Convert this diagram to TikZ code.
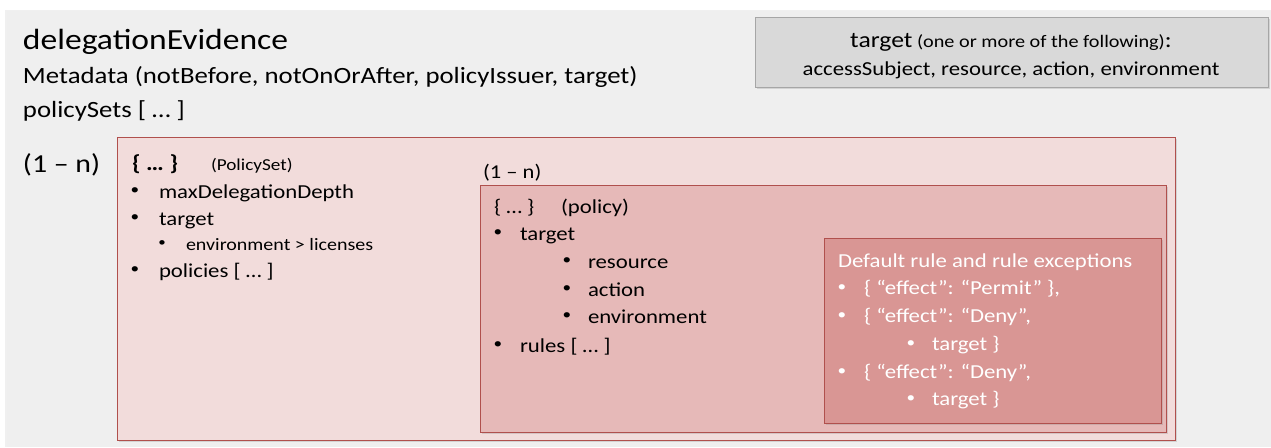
\documentclass[tikz,border=0pt]{standalone}
\usepackage{fontspec}
\setmainfont{Carlito}[FakeStretch=1.15]
\usetikzlibrary{shadows}
\definecolor{bgGrey}{HTML}{EFEFEF}
\definecolor{tgtFill}{HTML}{D9D9D9}
\definecolor{tgtLine}{HTML}{A6A6A6}
\definecolor{psFill}{HTML}{F2DCDB}
\definecolor{polFill}{HTML}{E6B9B8}
\definecolor{ruleFill}{HTML}{D99694}
\definecolor{redLine}{HTML}{B0504D}
\newcommand\myfs[1]{\fontsize{#1}{#1}\selectfont}
\begin{document}
\begin{tikzpicture}[x=1pt,y=-1pt,
  txt/.style={anchor=base west,inner sep=0pt,outer sep=0pt},
  bul/.style={anchor=base,inner sep=0pt,outer sep=0pt},
  body/.style={font=\myfs{19.8}},
  small/.style={font=\myfs{17.4}},
  dot/.style={anchor=center,inner sep=0pt,outer sep=0pt,font=\myfs{15}},
  shad/.style={drop shadow={opacity=0.25,shadow xshift=1.5pt,shadow yshift=-2pt}},
  tgtbox/.style={fill=tgtFill,draw=tgtLine,line width=1pt,shad},
  psbox/.style={fill=psFill,draw=redLine,line width=0.9pt,shad},
  polbox/.style={fill=polFill,draw=redLine,line width=0.9pt,shad},
  rulebox/.style={fill=ruleFill,draw=redLine,line width=0.9pt,shad},
  wtxt/.style={txt,text=white,body},
  wdot/.style={dot,text=white}]
\useasboundingbox (0,0) rectangle (1271,447);
\fill[white] (0,0) rectangle (1271,447);
\fill[black,opacity=0.06] (5,10) rectangle (1271,447);
\fill[bgGrey] (7,11) rectangle (1271,447);

% target box
\path[tgtbox] (755,17) rectangle (1268,87);
\node[bul] (tgt1) at (1011,47) {{\myfs{22.3}target}{\myfs{17.6} (one or more of the following)}{\myfs{22.3}:}};
\node[bul,body] (tgt2) at (1011,75) {accessSubject, resource, action, environment};

% header texts
\node[txt,font=\myfs{29.2}] (title) at (23,49) {delegationEvidence};
\node[txt,font=\myfs{23.3}] (meta) at (23,83) {Metadata (notBefore, notOnOrAfter, policyIssuer, target)};
\node[txt,font=\myfs{23.3}] (psets) at (23,117) {policySets [ … ]};
\node[txt,font=\myfs{25.9}] (card1) at (23,172) {(1 – n)};

% PolicySet box
\path[psbox] (117,137) rectangle (1175,440);
\node[txt,font=\bfseries\myfs{21.7}] (psbr) at (132,170) {\{ … \}};
\node[txt,font=\myfs{16.7}] (pslbl) at (211,170) {(PolicySet)};
\node[dot] (b1) at (135,191) {•};
\node[txt,body] (t1) at (159,198) {maxDelegationDepth};
\node[dot] (b2) at (135,218) {•};
\node[txt,body] (t2) at (159,225) {target};
\node[dot,font=\myfs{13}] (b3) at (162,244) {•};
\node[txt,small] (t3) at (186,250) {environment > licenses};
\node[dot] (b4) at (135,270) {•};
\node[txt,body] (t4) at (159,277) {policies [ … ]};

% policy box
\node[txt,font=\myfs{19.6}] (card2) at (483,178) {(1 – n)};
\path[polbox] (480,185) rectangle (1166,432);
\node[txt,body] (polbr) at (494,213) {\{ … \}};
\node[txt,body] (pollbl) at (561,213) {(policy)};
\node[dot] (pb1) at (498,233) {•};
\node[txt,body] (pt1) at (520,240) {target};
\node[dot] (pb2) at (567,261) {•};
\node[txt,body] (pt2) at (588,268) {resource};
\node[dot] (pb3) at (567,289) {•};
\node[txt,body] (pt3) at (588,296) {action};
\node[dot] (pb4) at (567,316) {•};
\node[txt,body] (pt4) at (588,323) {environment};
\node[dot] (pb5) at (498,345) {•};
\node[txt,body] (pt5) at (520,352) {rules [ … ]};

% rules box
\path[rulebox] (824,238) rectangle (1161,423);
\node[wtxt] (rh) at (838,267) {Default rule and rule exceptions};
\node[wdot] (rb1) at (842,288) {•};
\node[wtxt] (rt1) at (864,294) {\{ “effect”: “Permit” \},};
\node[wdot] (rb2) at (842,316) {•};
\node[wtxt] (rt2) at (864,322) {\{ “effect”: “Deny”,};
\node[wdot] (rb3) at (911,344) {•};
\node[wtxt] (rt3) at (932,350) {target \}};
\node[wdot] (rb4) at (842,372) {•};
\node[wtxt] (rt4) at (864,378) {\{ “effect”: “Deny”,};
\node[wdot] (rb5) at (911,399) {•};
\node[wtxt] (rt5) at (932,405) {target \}};
\end{tikzpicture}
\end{document}
